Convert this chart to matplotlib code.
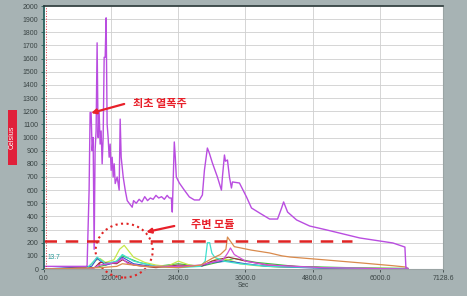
import matplotlib
matplotlib.use("Agg")
import matplotlib.pyplot as plt
from matplotlib.patches import Ellipse, Rectangle

plt.rcParams['font.family'] = ['Liberation Sans', 'DejaVu Sans']

# ---- data ----
x_ticks = [0, 1200, 2400, 3600, 4800, 6000, 7128.6]
x_tick_labels = ["0.0", "1200.0", "2400.0", "3600.0", "4800.0", "6000.0", "7128.6"]
y_ticks = list(range(0, 2001, 100))

purple_t = [0, 750, 770, 806, 824, 842, 860, 878, 896, 913, 931, 949, 967, 985, 1003,
            1021, 1039, 1057, 1075, 1093, 1110, 1128, 1146, 1164, 1182, 1200, 1218, 1236,
            1254, 1272, 1307, 1343, 1361, 1379, 1415, 1451, 1487, 1522, 1576, 1600, 1648,
            1700, 1750, 1800, 1850, 1900, 1950, 2000, 2050, 2100, 2150, 2200, 2240, 2275,
            2292, 2310, 2328, 2346, 2364, 2418, 2507, 2597, 2687, 2776, 2830, 2866, 2919,
            2955, 3009, 3098, 3170, 3188, 3224, 3242, 3278, 3313, 3349, 3367, 3492, 3618,
            3707, 3851, 4030, 4173, 4245, 4281, 4352, 4513, 4746, 5051, 5642, 6233, 6448,
            6466, 6501]
purple_v = [20, 20, 25, 600, 1190, 1190, 900, 1000, 150, 900, 1050, 1720, 1000, 1200, 950,
            1050, 800, 1000, 1610, 1610, 1910, 1100, 1000, 850, 950, 750, 850, 700,
            800, 650, 700, 600, 1140, 850, 700, 600, 520, 500, 470, 520, 500,
            530, 510, 550, 520, 540, 530, 560, 540, 550, 530, 560, 540, 540,
            433, 700, 966, 850, 700, 654, 600, 548, 525, 525, 563, 750, 920,
            880, 806, 700, 600, 700, 867, 820, 829, 700, 616, 662, 654, 548,
            464, 426, 380, 380, 464, 510, 433, 373, 327, 297, 236, 198, 167,
            10, 5]

orange_t = [0, 1000, 1300, 1400, 1800, 2400, 2800, 3000, 3150, 3250, 3278, 3400, 3700,
            4030, 4250, 4400, 5000, 5700, 6233, 6466, 6501]
orange_v = [0, 10, 20, 40, 20, 10, 30, 80, 110, 150, 243, 170, 144,
            122, 100, 91, 70, 45, 25, 15, 0]

cyan_t = [0, 750, 850, 950, 1100, 1300, 1400, 1600, 2000, 2400, 2800, 2880, 2920, 2960,
          3000, 3050, 3200, 3500, 4000, 5000, 6500]
cyan_v = [0, 0, 40, 90, 40, 60, 110, 60, 20, 10, 20, 60, 200, 200,
          120, 90, 60, 40, 20, 10, 0]

magenta_t = [0, 850, 1000, 1300, 1400, 1500, 1800, 2400, 2800, 3100, 3200, 3280, 3331,
             3400, 3600, 4000, 5000, 6500]
magenta_v = [0, 0, 30, 50, 80, 40, 20, 20, 30, 60, 70, 120, 160,
             110, 60, 30, 10, 0]

ygreen_t = [0, 750, 900, 1000, 1100, 1250, 1350, 1433, 1600, 1800, 2000, 2200, 2400,
            2600, 2800, 2950, 3100, 3300, 3500, 3800, 4200, 5000, 6000, 6500]
ygreen_v = [0, 0, 60, 80, 50, 70, 150, 180, 90, 50, 30, 20, 60,
            30, 20, 50, 80, 70, 40, 25, 15, 10, 5, 0]

blue_t = [0, 850, 950, 1100, 1300, 1400, 1600, 2000, 2400, 2800, 3000, 3300, 3600, 4000,
          5000, 6500]
blue_v = [0, 20, 80, 30, 50, 90, 40, 15, 20, 20, 50, 60, 40, 20, 5, 0]

darkred_t = [0, 900, 1000, 1300, 1400, 1600, 2000, 2400, 2800, 3000, 3300, 3600, 4000,
             5000, 6500]
darkred_v = [0, 10, 50, 40, 70, 30, 10, 30, 20, 60, 90, 60, 30, 10, 0]

green_t = [0, 900, 1100, 1300, 1400, 1700, 2000, 2400, 2800, 3100, 3400, 3800, 4500,
           5500, 6500]
green_v = [0, 10, 30, 60, 100, 50, 20, 40, 20, 50, 80, 50, 20, 10, 5]

threshold = 210
threshold_end = 5500

# ---- figure ----
fig = plt.figure(figsize=(4.67, 2.96), dpi=100)
fig.patch.set_facecolor('#a7b3b4')
ax = fig.add_axes([0.0942, 0.0912, 0.8544, 0.8885])
ax.set_facecolor('white')

ax.set_xlim(0, 7128.6)
ax.set_ylim(0, 2000)
ax.set_xticks(x_ticks)
ax.set_xticklabels(x_tick_labels)
ax.set_yticks(y_ticks)
ax.set_yticklabels([str(v) for v in y_ticks])
ax.tick_params(axis='both', labelsize=5, colors='#3a4444', length=2.5, width=0.6, pad=1.5)
ax.tick_params(axis='y', colors='#2a5a5a', labelcolor='#3a4444')
ax.grid(True, color='#cfcfcf', linewidth=0.6)
ax.set_axisbelow(True)

ax.spines['left'].set_color('#1f5a56')
ax.spines['left'].set_linewidth(1.2)
ax.spines['top'].set_color('#2c3a3a')
ax.spines['top'].set_linewidth(1.2)
ax.spines['right'].set_color('#9aa4a4')
ax.spines['bottom'].set_color('#9aa4a4')

# small series
ax.plot(green_t, green_v, color='#3cbf3c', lw=0.8)
ax.plot(ygreen_t, ygreen_v, color='#c6e84a', lw=0.9)
ax.plot(blue_t, blue_v, color='#3356cc', lw=0.8)
ax.plot(darkred_t, darkred_v, color='#9c2f3a', lw=0.8)
ax.plot(cyan_t, cyan_v, color='#3fe0cf', lw=0.9)
ax.plot(magenta_t, magenta_v, color='#d04fd8', lw=0.9)
ax.plot(orange_t, orange_v, color='#d98a4c', lw=0.9)
ax.plot(purple_t, purple_v, color='#b94de0', lw=1.0)

# reference lines
ax.axvline(40, color='#e03040', lw=0.7, linestyle=':')
ax.plot([0, threshold_end], [threshold, threshold], color='#e02424', lw=1.8,
        dashes=(5, 3.5))

ax.add_patch(Ellipse((1433, 140), 1020, 410, fill=False, edgecolor='#e02424',
                     lw=1.5, linestyle=':', clip_on=False))

ax.text(60, 75, "13.7", color='#2a9a9a', fontsize=4.8)

kfont = ['Noto Sans CJK KR', 'DejaVu Sans']
ax.annotate("", xy=(842, 1186), xytext=(1433, 1255),
            arrowprops=dict(arrowstyle='-|>', color='#e8202a', lw=1.6,
                            mutation_scale=7, shrinkA=0, shrinkB=0))
ax.text(1594, 1255, "최초 열폭주", color='#e8202a', fontsize=8, fontweight='bold',
        family=kfont, va='center', ha='left')

ax.annotate("", xy=(1827, 281), xytext=(2328, 327),
            arrowprops=dict(arrowstyle='-|>', color='#e8202a', lw=1.6,
                            mutation_scale=7, shrinkA=0, shrinkB=0))
ax.text(2633, 335, "주변 모듈", color='#e8202a', fontsize=8, fontweight='bold',
        family=kfont, va='center', ha='left')

ax.set_xlabel("Sec", fontsize=4.8, color='#3a4444', labelpad=0)

fig.patches.append(Rectangle((0.017, 0.4426), 0.0193, 0.186, transform=fig.transFigure,
                             facecolor='#e0203a', edgecolor='none'))
fig.text(0.0267, 0.5355, "Celsius", rotation=90, color='white', fontsize=5,
         ha='center', va='center')

fig.savefig("out.png", dpi=100, facecolor=fig.get_facecolor())
